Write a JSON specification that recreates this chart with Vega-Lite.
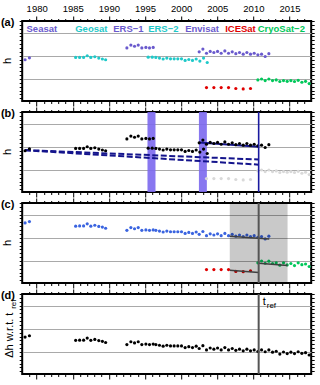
{
"$schema": "https://vega.github.io/schema/vega-lite/v6.json",
"padding": {"left": -0.8, "top": 2, "right": 2, "bottom": 2},
"background": "white",
"spacing": 11,
"bounds": "flush",
"config": {
  "view": {"stroke": "black", "strokeWidth": 2},
  "font": "Liberation Sans",
  "axis": {"domain": false, "labels": false, "grid": false, "tickColor": "black", "tickWidth": 1, "minExtent": 0, "titleFontWeight": "normal", "titleColor": "black", "titleFontSize": 10, "titleFont": "Liberation Sans"}
},
"datasets": {
  "missions": [
    {"mission":"Seasat","year":1978.4,"h":0.83},{"mission":"Seasat","year":1979.0,"h":0.91},
    {"mission":"Geosat","year":1985.4,"h":0.93},{"mission":"Geosat","year":1985.95,"h":0.93},{"mission":"Geosat","year":1986.5,"h":0.93},{"mission":"Geosat","year":1987.0,"h":1.0},{"mission":"Geosat","year":1987.5,"h":0.93},{"mission":"Geosat","year":1988.05,"h":0.96},{"mission":"Geosat","year":1988.6,"h":0.90},{"mission":"Geosat","year":1989.1,"h":0.86},{"mission":"Geosat","year":1989.55,"h":0.83},
    {"mission":"ERS-1","year":1992.49,"h":1.34},{"mission":"ERS-1","year":1993.04,"h":1.46},{"mission":"ERS-1","year":1993.55,"h":1.41},{"mission":"ERS-1","year":1994.06,"h":1.46},{"mission":"ERS-1","year":1994.56,"h":1.34},{"mission":"ERS-1","year":1995.12,"h":1.36},{"mission":"ERS-1","year":1995.62,"h":1.34},{"mission":"ERS-1","year":1996.13,"h":1.36},
    {"mission":"ERS-2","year":1995.44,"h":0.94},{"mission":"ERS-2","year":1995.99,"h":0.94},{"mission":"ERS-2","year":1996.5,"h":0.93},{"mission":"ERS-2","year":1997.0,"h":0.90},{"mission":"ERS-2","year":1997.51,"h":0.86},{"mission":"ERS-2","year":1998.02,"h":0.90},{"mission":"ERS-2","year":1998.53,"h":0.87},{"mission":"ERS-2","year":1999.03,"h":0.87},{"mission":"ERS-2","year":1999.54,"h":0.87},{"mission":"ERS-2","year":2000.05,"h":0.87},{"mission":"ERS-2","year":2000.55,"h":0.80},{"mission":"ERS-2","year":2001.06,"h":0.84},{"mission":"ERS-2","year":2001.57,"h":0.80},{"mission":"ERS-2","year":2002.08,"h":0.86},{"mission":"ERS-2","year":2002.59,"h":0.77},{"mission":"ERS-2","year":2003.1,"h":0.90},{"mission":"ERS-2","year":2003.61,"h":0.71},
    {"mission":"Envisat","year":2002.5,"h":1.17},{"mission":"Envisat","year":2003.01,"h":1.29},{"mission":"Envisat","year":2003.51,"h":1.11},{"mission":"Envisat","year":2004.02,"h":1.19},{"mission":"Envisat","year":2004.53,"h":1.14},{"mission":"Envisat","year":2005.04,"h":1.19},{"mission":"Envisat","year":2005.54,"h":1.11},{"mission":"Envisat","year":2006.05,"h":1.21},{"mission":"Envisat","year":2006.56,"h":1.11},{"mission":"Envisat","year":2007.07,"h":1.17},{"mission":"Envisat","year":2007.57,"h":1.09},{"mission":"Envisat","year":2008.08,"h":1.14},{"mission":"Envisat","year":2008.59,"h":1.07},{"mission":"Envisat","year":2009.1,"h":1.14},{"mission":"Envisat","year":2009.6,"h":1.07},{"mission":"Envisat","year":2010.11,"h":1.11},{"mission":"Envisat","year":2010.62,"h":1.04},{"mission":"Envisat","year":2011.13,"h":1.07},{"mission":"Envisat","year":2011.63,"h":0.97},{"mission":"Envisat","year":2012.14,"h":1.09},
    {"mission":"ICESat","year":2003.51,"h":-0.37},{"mission":"ICESat","year":2004.53,"h":-0.37},{"mission":"ICESat","year":2005.54,"h":-0.37},{"mission":"ICESat","year":2006.56,"h":-0.37},{"mission":"ICESat","year":2007.57,"h":-0.41},{"mission":"ICESat","year":2008.59,"h":-0.43},{"mission":"ICESat","year":2009.6,"h":-0.41},
    {"mission":"CryoSat-2","year":2010.62,"h":-0.04},{"mission":"CryoSat-2","year":2011.13,"h":0.0},{"mission":"CryoSat-2","year":2011.63,"h":-0.07},{"mission":"CryoSat-2","year":2012.14,"h":0.0},{"mission":"CryoSat-2","year":2012.65,"h":-0.07},{"mission":"CryoSat-2","year":2013.16,"h":-0.04},{"mission":"CryoSat-2","year":2013.66,"h":-0.11},{"mission":"CryoSat-2","year":2014.17,"h":-0.07},{"mission":"CryoSat-2","year":2014.68,"h":-0.10},{"mission":"CryoSat-2","year":2015.19,"h":-0.07},{"mission":"CryoSat-2","year":2015.69,"h":-0.11},{"mission":"CryoSat-2","year":2016.2,"h":-0.06},{"mission":"CryoSat-2","year":2016.71,"h":-0.14},{"mission":"CryoSat-2","year":2017.22,"h":-0.10},{"mission":"CryoSat-2","year":2017.72,"h":-0.20}
  ],
  "calibrated": [
    {"sensor":"radar","year":1978.4,"h":1.64},{"sensor":"radar","year":1979.0,"h":1.70},
    {"sensor":"radar","year":1985.4,"h":1.50},{"sensor":"radar","year":1985.95,"h":1.51},{"sensor":"radar","year":1986.5,"h":1.51},{"sensor":"radar","year":1987.0,"h":1.60},{"sensor":"radar","year":1987.5,"h":1.50},{"sensor":"radar","year":1988.05,"h":1.54},{"sensor":"radar","year":1988.6,"h":1.49},{"sensor":"radar","year":1989.1,"h":1.46},{"sensor":"radar","year":1989.55,"h":1.41},
    {"sensor":"radar","year":1992.49,"h":1.32},{"sensor":"radar","year":1993.04,"h":1.44},{"sensor":"radar","year":1993.55,"h":1.39},{"sensor":"radar","year":1994.06,"h":1.44},{"sensor":"radar","year":1994.56,"h":1.32},{"sensor":"radar","year":1995.12,"h":1.34},{"sensor":"radar","year":1995.62,"h":1.32},{"sensor":"radar","year":1996.13,"h":1.34},
    {"sensor":"radar","year":1996.5,"h":1.32},{"sensor":"radar","year":1997.0,"h":1.29},{"sensor":"radar","year":1997.51,"h":1.25},{"sensor":"radar","year":1998.02,"h":1.29},{"sensor":"radar","year":1998.53,"h":1.26},{"sensor":"radar","year":1999.03,"h":1.26},{"sensor":"radar","year":1999.54,"h":1.26},{"sensor":"radar","year":2000.05,"h":1.26},{"sensor":"radar","year":2000.55,"h":1.19},{"sensor":"radar","year":2001.06,"h":1.23},{"sensor":"radar","year":2001.57,"h":1.19},{"sensor":"radar","year":2002.08,"h":1.25},
    {"sensor":"radar","year":2002.5,"h":1.15},{"sensor":"radar","year":2003.01,"h":1.27},{"sensor":"radar","year":2003.51,"h":1.09},{"sensor":"radar","year":2004.02,"h":1.17},{"sensor":"radar","year":2004.53,"h":1.12},{"sensor":"radar","year":2005.04,"h":1.17},{"sensor":"radar","year":2005.54,"h":1.09},{"sensor":"radar","year":2006.05,"h":1.19},{"sensor":"radar","year":2006.56,"h":1.09},{"sensor":"radar","year":2007.07,"h":1.15},{"sensor":"radar","year":2007.57,"h":1.07},{"sensor":"radar","year":2008.08,"h":1.12},{"sensor":"radar","year":2008.59,"h":1.05},{"sensor":"radar","year":2009.1,"h":1.12},{"sensor":"radar","year":2009.6,"h":1.05},{"sensor":"radar","year":2010.11,"h":1.09},{"sensor":"radar","year":2010.62,"h":1.02},{"sensor":"radar","year":2011.13,"h":1.05},{"sensor":"radar","year":2011.63,"h":0.95},{"sensor":"radar","year":2012.14,"h":1.07},
    {"sensor":"ICESat","year":2003.51,"h":-0.37},{"sensor":"ICESat","year":2004.53,"h":-0.37},{"sensor":"ICESat","year":2005.54,"h":-0.37},{"sensor":"ICESat","year":2006.56,"h":-0.37},{"sensor":"ICESat","year":2007.57,"h":-0.45},{"sensor":"ICESat","year":2008.59,"h":-0.46},{"sensor":"ICESat","year":2009.6,"h":-0.42},
    {"sensor":"CryoSat-2","year":2010.62,"h":-0.08},{"sensor":"CryoSat-2","year":2011.13,"h":0.0},{"sensor":"CryoSat-2","year":2011.63,"h":-0.10},{"sensor":"CryoSat-2","year":2012.14,"h":-0.01},{"sensor":"CryoSat-2","year":2012.65,"h":-0.11},{"sensor":"CryoSat-2","year":2013.16,"h":-0.08},{"sensor":"CryoSat-2","year":2013.66,"h":-0.18},{"sensor":"CryoSat-2","year":2014.17,"h":-0.08},{"sensor":"CryoSat-2","year":2014.68,"h":-0.17},{"sensor":"CryoSat-2","year":2015.19,"h":-0.11},{"sensor":"CryoSat-2","year":2015.69,"h":-0.20},{"sensor":"CryoSat-2","year":2016.2,"h":-0.08},{"sensor":"CryoSat-2","year":2016.71,"h":-0.16},{"sensor":"CryoSat-2","year":2017.22,"h":-0.13},{"sensor":"CryoSat-2","year":2017.72,"h":-0.24}
  ],
  "merged": [
    {"year":1978.4,"dh":0.64},{"year":1979.0,"dh":0.70},
    {"year":1985.4,"dh":0.50},{"year":1985.95,"dh":0.51},{"year":1986.5,"dh":0.51},{"year":1987.0,"dh":0.60},{"year":1987.5,"dh":0.50},{"year":1988.05,"dh":0.54},{"year":1988.6,"dh":0.49},{"year":1989.1,"dh":0.46},{"year":1989.55,"dh":0.41},
    {"year":1992.49,"dh":0.32},{"year":1993.04,"dh":0.44},{"year":1993.55,"dh":0.39},{"year":1994.06,"dh":0.44},{"year":1994.56,"dh":0.32},{"year":1995.12,"dh":0.34},{"year":1995.62,"dh":0.32},{"year":1996.13,"dh":0.34},
    {"year":1996.5,"dh":0.32},{"year":1997.0,"dh":0.29},{"year":1997.51,"dh":0.25},{"year":1998.02,"dh":0.29},{"year":1998.53,"dh":0.26},{"year":1999.03,"dh":0.26},{"year":1999.54,"dh":0.26},{"year":2000.05,"dh":0.26},{"year":2000.55,"dh":0.19},{"year":2001.06,"dh":0.23},{"year":2001.57,"dh":0.19},{"year":2002.08,"dh":0.25},
    {"year":2002.5,"dh":0.15},{"year":2003.01,"dh":0.27},{"year":2003.51,"dh":0.09},{"year":2004.02,"dh":0.17},{"year":2004.53,"dh":0.12},{"year":2005.04,"dh":0.17},{"year":2005.54,"dh":0.09},{"year":2006.05,"dh":0.19},{"year":2006.56,"dh":0.09},{"year":2007.07,"dh":0.15},{"year":2007.57,"dh":0.07},{"year":2008.08,"dh":0.12},{"year":2008.59,"dh":0.05},{"year":2009.1,"dh":0.12},{"year":2009.6,"dh":0.05},{"year":2010.11,"dh":0.09},{"year":2010.62,"dh":0.02},
    {"year":2011.13,"dh":0.09},{"year":2011.63,"dh":0.01},{"year":2012.14,"dh":0.09},{"year":2012.65,"dh":-0.01},{"year":2013.16,"dh":0.03},{"year":2013.66,"dh":-0.09},{"year":2014.17,"dh":0.0},{"year":2014.68,"dh":-0.07},{"year":2015.19,"dh":-0.01},{"year":2015.69,"dh":-0.07},{"year":2016.2,"dh":0.01},{"year":2016.71,"dh":-0.06},{"year":2017.22,"dh":-0.03},{"year":2017.72,"dh":-0.13}
  ],
  "labels": [
    {"mission":"Seasat","label":"Seasat","x":1978.6},
    {"mission":"Geosat","label":"Geosat","x":1985.34},
    {"mission":"ERS-1","label":"ERS−1","x":1990.6},
    {"mission":"ERS-2","label":"ERS−2","x":1995.44},
    {"mission":"Envisat","label":"Envisat","x":2000.56},
    {"mission":"ICESat","label":"ICESat","x":2006.1},
    {"mission":"CryoSat-2","label":"CryoSat−2","x":2010.6}
  ],
  "bands": [{"start":1995.34,"end":1996.45},{"start":2002.46,"end":2003.56}],
  "tref": [{"t":2010.73}],
  "window": [{"start":2006.73,"end":2014.73}],
  "dashed": [{"line":"A","year":1978.37,"h":0.86},{"line":"A","year":2010.73,"h":0.45},{"line":"B","year":1978.37,"h":0.85},{"line":"B","year":2010.73,"h":0.23}],
  "fit_b": [{"year":2002.5,"h":1.19},{"year":2010.73,"h":1.0}],
  "fits_c": [{"fit":"Envisat","year":2006.73,"h":1.07},{"fit":"Envisat","year":2012.2,"h":0.95},{"fit":"ICESat","year":2006.73,"h":-0.40},{"fit":"ICESat","year":2010.73,"h":-0.50},{"fit":"CryoSat-2","year":2010.73,"h":-0.10},{"fit":"CryoSat-2","year":2014.73,"h":-0.20}],
  "panels": [{"panel":"a","label":"(a)","ytitle":"h"},{"panel":"b","label":"(b)","ytitle":"h"},{"panel":"c","label":"(c)","ytitle":"h"},{"panel":"d","label":"(d)","ytitle":"Δh w.r.t. t"}]
},
"vconcat": [
 {
  "width": 289, "height": 80,
  "resolve": {"axis": {"x": "independent", "y": "independent"}},
  "layer": [
   {"data": {"name": "missions"},
    "transform": [{"filter": "datum.mission !== 'ICESat' && datum.mission !== 'CryoSat-2'"}],
    "mark": {"type": "circle", "size": 10, "opacity": 1},
    "encoding": {
      "x": {"field": "year", "type": "quantitative", "scale": {"domain": [1978, 2018], "nice": false, "zero": false},
            "axis": {"orient": "bottom", "values": [1979,1980,1981,1982,1983,1984,1985,1986,1987,1988,1989,1990,1991,1992,1993,1994,1995,1996,1997,1998,1999,2000,2001,2002,2003,2004,2005,2006,2007,2008,2009,2010,2011,2012,2013,2014,2015,2016,2017], "labels": false, "title": null, "tickSize": {"condition": {"test": "datum.value % 5 === 0", "value": 5}, "value": 2.5}}},
      "y": {"field": "h", "type": "quantitative", "scale": {"domain": [-0.95, 2.5], "nice": false, "zero": false},
            "axis": {"orient": "left", "values": [-0.8333,-0.6667,-0.5,-0.3333,-0.1667,0,0.1667,0.3333,0.5,0.6667,0.8333,1,1.1667,1.3333,1.5,1.6667,1.8333,2,2.1667,2.3333,2.5], "labels": false, "tickSize": 3, "grid": true, "gridColor": "#a9a9a9", "gridWidth": 1.2, "gridOpacity": {"condition": {"test": "abs(datum.value - round(datum.value)) < 0.01", "value": 1}, "value": 0}, "title": null}},
      "color": {"field": "mission", "type": "nominal", "legend": null, "scale": {"domain": ["Seasat","Geosat","ERS-1","ERS-2","Envisat","ICESat","CryoSat-2","radar"], "range": ["#6a5acd","#1fc9c9","#6a5acd","#1fc9c9","#6a5acd","#e00000","#00c85a","#3a64e0"]}}
    }},
   {"data": {"name": "missions"},
    "transform": [{"filter": "datum.mission === 'ICESat' || datum.mission === 'CryoSat-2'"}],
    "mark": {"type": "circle", "size": 10, "opacity": 1},
    "encoding": {
      "x": {"field": "year", "type": "quantitative", "scale": {"domain": [1978, 2018], "nice": false, "zero": false},
            "axis": {"orient": "top", "values": [1979,1980,1981,1982,1983,1984,1985,1986,1987,1988,1989,1990,1991,1992,1993,1994,1995,1996,1997,1998,1999,2000,2001,2002,2003,2004,2005,2006,2007,2008,2009,2010,2011,2012,2013,2014,2015,2016,2017], "labels": true, "labelExpr": "datum.value % 5 === 0 ? '' + datum.value : ''", "labelFontSize": 9.5, "labelColor": "black", "labelPadding": 3, "labelFlush": false, "labelOverlap": false, "title": null, "tickSize": {"condition": {"test": "datum.value % 5 === 0", "value": 5}, "value": 2.5}}},
      "y": {"field": "h", "type": "quantitative", "scale": {"domain": [-0.95, 2.5], "nice": false, "zero": false},
            "axis": {"orient": "right", "values": [-0.8333,-0.6667,-0.5,-0.3333,-0.1667,0,0.1667,0.3333,0.5,0.6667,0.8333,1,1.1667,1.3333,1.5,1.6667,1.8333,2,2.1667,2.3333,2.5], "labels": false, "tickSize": 3, "grid": false, "title": null}},
      "color": {"field": "mission", "type": "nominal", "legend": null}
    }},
   {"data": {"name": "labels"},
    "mark": {"type": "text", "align": "left", "baseline": "middle", "fontSize": 9.5, "fontWeight": "bold"},
    "encoding": {
      "x": {"field": "x", "type": "quantitative", "axis": null},
      "y": {"datum": 2.16, "axis": null},
      "text": {"field": "label"},
      "color": {"field": "mission", "type": "nominal", "legend": null}
    }},
   {"data": {"name": "panels"},
    "transform": [{"filter": "datum.panel === 'a'"}],
    "mark": {"type": "text", "fontWeight": "bold", "fontSize": 11, "align": "left", "baseline": "middle", "color": "black"},
    "encoding": {"x": {"datum": 1975.05, "axis": null}, "y": {"datum": 2.42, "axis": null}, "text": {"field": "label"}}},
   {"data": {"name": "panels"},
    "transform": [{"filter": "datum.panel === 'a'"}],
    "mark": {"type": "text", "fontSize": 11, "align": "center", "baseline": "alphabetic", "angle": 270, "color": "black"},
    "encoding": {"x": {"datum": 1976.48, "axis": null}, "y": {"datum": 0.775, "axis": null}, "text": {"field": "ytitle"}}}
  ]
 },
 {
  "width": 289, "height": 80,
  "resolve": {"axis": {"x": "independent", "y": "independent"}},
  "layer": [
   {"data": {"name": "bands"},
    "mark": {"type": "rect", "color": "#7b68ee", "opacity": 0.9},
    "encoding": {"x": {"field": "start", "type": "quantitative", "scale": {"domain": [1978, 2018], "nice": false, "zero": false}, "axis": null}, "x2": {"field": "end"}}},
   {"data": {"name": "dashed"},
    "mark": {"type": "line", "color": "#14148c", "strokeWidth": 2, "strokeDash": [6, 2.5]},
    "encoding": {"x": {"field": "year", "type": "quantitative", "axis": null}, "y": {"field": "h", "type": "quantitative", "scale": {"domain": [-0.95, 2.5], "nice": false, "zero": false}, "axis": null}, "detail": {"field": "line"}}},
   {"data": {"name": "fit_b"},
    "mark": {"type": "line", "color": "#14148c", "strokeWidth": 2},
    "encoding": {"x": {"field": "year", "type": "quantitative", "axis": null}, "y": {"field": "h", "type": "quantitative", "axis": null}}},
   {"data": {"name": "missions"},
    "transform": [{"filter": "datum.mission !== 'ICESat' && datum.mission !== 'CryoSat-2'"}],
    "mark": {"type": "circle", "size": 10, "opacity": 1, "color": "black"},
    "encoding": {
      "x": {"field": "year", "type": "quantitative",
            "axis": {"orient": "bottom", "values": [1979,1980,1981,1982,1983,1984,1985,1986,1987,1988,1989,1990,1991,1992,1993,1994,1995,1996,1997,1998,1999,2000,2001,2002,2003,2004,2005,2006,2007,2008,2009,2010,2011,2012,2013,2014,2015,2016,2017], "labels": false, "title": null, "tickSize": {"condition": {"test": "datum.value % 5 === 0", "value": 5}, "value": 2.5}}},
      "y": {"field": "h", "type": "quantitative",
            "axis": {"orient": "left", "values": [-0.8333,-0.6667,-0.5,-0.3333,-0.1667,0,0.1667,0.3333,0.5,0.6667,0.8333,1,1.1667,1.3333,1.5,1.6667,1.8333,2,2.1667,2.3333,2.5], "labels": false, "tickSize": 3, "grid": true, "gridColor": "#a9a9a9", "gridWidth": 1.2, "gridOpacity": {"condition": {"test": "abs(datum.value - round(datum.value)) < 0.01", "value": 1}, "value": 0}, "title": null}}
    }},
   {"data": {"name": "missions"},
    "transform": [{"filter": "datum.mission === 'ICESat' || datum.mission === 'CryoSat-2'"}],
    "mark": {"type": "circle", "size": 10, "opacity": 1, "color": "#d9d9d9"},
    "encoding": {
      "x": {"field": "year", "type": "quantitative",
            "axis": {"orient": "top", "values": [1979,1980,1981,1982,1983,1984,1985,1986,1987,1988,1989,1990,1991,1992,1993,1994,1995,1996,1997,1998,1999,2000,2001,2002,2003,2004,2005,2006,2007,2008,2009,2010,2011,2012,2013,2014,2015,2016,2017], "labels": false, "title": null, "tickSize": {"condition": {"test": "datum.value % 5 === 0", "value": 5}, "value": 2.5}}},
      "y": {"field": "h", "type": "quantitative",
            "axis": {"orient": "right", "values": [-0.8333,-0.6667,-0.5,-0.3333,-0.1667,0,0.1667,0.3333,0.5,0.6667,0.8333,1,1.1667,1.3333,1.5,1.6667,1.8333,2,2.1667,2.3333,2.5], "labels": false, "tickSize": 3, "grid": false, "title": null}}
    }},
   {"data": {"name": "tref"},
    "mark": {"type": "rule", "color": "#1a1aa0", "strokeWidth": 1.6},
    "encoding": {"x": {"field": "t", "type": "quantitative", "axis": null}}},
   {"data": {"name": "panels"},
    "transform": [{"filter": "datum.panel === 'b'"}],
    "mark": {"type": "text", "fontWeight": "bold", "fontSize": 11, "align": "left", "baseline": "middle", "color": "black"},
    "encoding": {"x": {"datum": 1975.05, "axis": null}, "y": {"datum": 2.42, "axis": null}, "text": {"field": "label"}}},
   {"data": {"name": "panels"},
    "transform": [{"filter": "datum.panel === 'b'"}],
    "mark": {"type": "text", "fontSize": 11, "align": "center", "baseline": "alphabetic", "angle": 270, "color": "black"},
    "encoding": {"x": {"datum": 1976.48, "axis": null}, "y": {"datum": 0.775, "axis": null}, "text": {"field": "ytitle"}}}
  ]
 },
 {
  "width": 289, "height": 80,
  "resolve": {"axis": {"x": "independent", "y": "independent"}},
  "layer": [
   {"data": {"name": "calibrated"},
    "transform": [{"filter": "datum.sensor === 'radar'"}],
    "mark": {"type": "circle", "size": 10, "opacity": 1},
    "encoding": {
      "x": {"field": "year", "type": "quantitative", "scale": {"domain": [1978, 2018], "nice": false, "zero": false},
            "axis": {"orient": "bottom", "values": [1979,1980,1981,1982,1983,1984,1985,1986,1987,1988,1989,1990,1991,1992,1993,1994,1995,1996,1997,1998,1999,2000,2001,2002,2003,2004,2005,2006,2007,2008,2009,2010,2011,2012,2013,2014,2015,2016,2017], "labels": false, "title": null, "tickSize": {"condition": {"test": "datum.value % 5 === 0", "value": 5}, "value": 2.5}}},
      "y": {"field": "h", "type": "quantitative", "scale": {"domain": [-0.95, 2.5], "nice": false, "zero": false},
            "axis": {"orient": "left", "values": [-0.8333,-0.6667,-0.5,-0.3333,-0.1667,0,0.1667,0.3333,0.5,0.6667,0.8333,1,1.1667,1.3333,1.5,1.6667,1.8333,2,2.1667,2.3333,2.5], "labels": false, "tickSize": 3, "grid": true, "gridColor": "#a9a9a9", "gridWidth": 1.2, "gridOpacity": {"condition": {"test": "abs(datum.value - round(datum.value)) < 0.01", "value": 1}, "value": 0}, "title": null}},
      "color": {"field": "sensor", "type": "nominal", "legend": null}
    }},
   {"data": {"name": "calibrated"},
    "transform": [{"filter": "datum.sensor !== 'radar'"}],
    "mark": {"type": "circle", "size": 10, "opacity": 1},
    "encoding": {
      "x": {"field": "year", "type": "quantitative",
            "axis": {"orient": "top", "values": [1979,1980,1981,1982,1983,1984,1985,1986,1987,1988,1989,1990,1991,1992,1993,1994,1995,1996,1997,1998,1999,2000,2001,2002,2003,2004,2005,2006,2007,2008,2009,2010,2011,2012,2013,2014,2015,2016,2017], "labels": false, "title": null, "tickSize": {"condition": {"test": "datum.value % 5 === 0", "value": 5}, "value": 2.5}}},
      "y": {"field": "h", "type": "quantitative",
            "axis": {"orient": "right", "values": [-0.8333,-0.6667,-0.5,-0.3333,-0.1667,0,0.1667,0.3333,0.5,0.6667,0.8333,1,1.1667,1.3333,1.5,1.6667,1.8333,2,2.1667,2.3333,2.5], "labels": false, "tickSize": 3, "grid": false, "title": null}},
      "color": {"field": "sensor", "type": "nominal", "legend": null}
    }},
   {"data": {"name": "fits_c"},
    "mark": {"type": "line", "color": "#505050", "strokeWidth": 1.5},
    "encoding": {"x": {"field": "year", "type": "quantitative", "axis": null}, "y": {"field": "h", "type": "quantitative", "axis": null}, "detail": {"field": "fit"}}},
   {"data": {"name": "window"},
    "mark": {"type": "rect", "color": "black", "opacity": 0.21},
    "encoding": {"x": {"field": "start", "type": "quantitative", "axis": null}, "x2": {"field": "end"}}},
   {"data": {"name": "tref"},
    "mark": {"type": "rule", "color": "#555555", "strokeWidth": 2},
    "encoding": {"x": {"field": "t", "type": "quantitative", "axis": null}}},
   {"data": {"name": "panels"},
    "transform": [{"filter": "datum.panel === 'c'"}],
    "mark": {"type": "text", "fontWeight": "bold", "fontSize": 11, "align": "left", "baseline": "middle", "color": "black"},
    "encoding": {"x": {"datum": 1975.05, "axis": null}, "y": {"datum": 2.42, "axis": null}, "text": {"field": "label"}}},
   {"data": {"name": "panels"},
    "transform": [{"filter": "datum.panel === 'c'"}],
    "mark": {"type": "text", "fontSize": 11, "align": "center", "baseline": "alphabetic", "angle": 270, "color": "black"},
    "encoding": {"x": {"datum": 1976.48, "axis": null}, "y": {"datum": 0.775, "axis": null}, "text": {"field": "ytitle"}}}
  ]
 },
 {
  "width": 289, "height": 80,
  "resolve": {"axis": {"x": "independent", "y": "independent"}},
  "layer": [
   {"data": {"name": "merged"},
    "transform": [{"filter": "datum.year < 2010.7"}],
    "mark": {"type": "circle", "size": 10, "opacity": 1, "color": "black"},
    "encoding": {
      "x": {"field": "year", "type": "quantitative", "scale": {"domain": [1978, 2018], "nice": false, "zero": false},
            "axis": {"orient": "bottom", "values": [1979,1980,1981,1982,1983,1984,1985,1986,1987,1988,1989,1990,1991,1992,1993,1994,1995,1996,1997,1998,1999,2000,2001,2002,2003,2004,2005,2006,2007,2008,2009,2010,2011,2012,2013,2014,2015,2016,2017], "labels": false, "title": null, "tickSize": {"condition": {"test": "datum.value % 5 === 0", "value": 5}, "value": 2.5}}},
      "y": {"field": "dh", "type": "quantitative", "scale": {"domain": [-0.95, 2.5], "nice": false, "zero": false},
            "axis": {"orient": "left", "values": [-0.8333,-0.6667,-0.5,-0.3333,-0.1667,0,0.1667,0.3333,0.5,0.6667,0.8333,1,1.1667,1.3333,1.5,1.6667,1.8333,2,2.1667,2.3333,2.5], "labels": false, "tickSize": 3, "grid": true, "gridColor": "#a9a9a9", "gridWidth": 1.2, "gridOpacity": {"condition": {"test": "abs(datum.value - round(datum.value)) < 0.01", "value": 1}, "value": 0}, "title": null}}
    }},
   {"data": {"name": "merged"},
    "transform": [{"filter": "datum.year >= 2010.7"}],
    "mark": {"type": "circle", "size": 10, "opacity": 1, "color": "black"},
    "encoding": {
      "x": {"field": "year", "type": "quantitative",
            "axis": {"orient": "top", "values": [1979,1980,1981,1982,1983,1984,1985,1986,1987,1988,1989,1990,1991,1992,1993,1994,1995,1996,1997,1998,1999,2000,2001,2002,2003,2004,2005,2006,2007,2008,2009,2010,2011,2012,2013,2014,2015,2016,2017], "labels": false, "title": null, "tickSize": {"condition": {"test": "datum.value % 5 === 0", "value": 5}, "value": 2.5}}},
      "y": {"field": "dh", "type": "quantitative",
            "axis": {"orient": "right", "values": [-0.8333,-0.6667,-0.5,-0.3333,-0.1667,0,0.1667,0.3333,0.5,0.6667,0.8333,1,1.1667,1.3333,1.5,1.6667,1.8333,2,2.1667,2.3333,2.5], "labels": false, "tickSize": 3, "grid": false, "title": null}}
    }},
   {"data": {"name": "tref"},
    "mark": {"type": "rule", "color": "#555555", "strokeWidth": 2},
    "encoding": {"x": {"field": "t", "type": "quantitative", "axis": null}}},
   {"data": {"name": "panels"},
    "transform": [{"filter": "datum.panel === 'd'"}],
    "mark": {"type": "text", "fontSize": 11, "align": "left", "baseline": "alphabetic", "color": "black"},
    "encoding": {"x": {"datum": 2011.3, "axis": null}, "y": {"datum": 2.03, "axis": null}, "text": {"value": "t"}}},
   {"data": {"name": "panels"},
    "transform": [{"filter": "datum.panel === 'd'"}],
    "mark": {"type": "text", "fontSize": 8, "align": "left", "baseline": "alphabetic", "color": "black"},
    "encoding": {"x": {"datum": 2011.85, "axis": null}, "y": {"datum": 1.88, "axis": null}, "text": {"value": "ref"}}},
   {"data": {"name": "panels"},
    "transform": [{"filter": "datum.panel === 'd'"}],
    "mark": {"type": "text", "fontSize": 11, "align": "left", "baseline": "alphabetic", "angle": 270, "color": "black"},
    "encoding": {"x": {"datum": 1976.75, "axis": null}, "y": {"datum": -0.25, "axis": null}, "text": {"field": "ytitle"}}},
   {"data": {"name": "panels"},
    "transform": [{"filter": "datum.panel === 'd'"}],
    "mark": {"type": "text", "fontSize": 8, "align": "left", "baseline": "alphabetic", "angle": 270, "color": "black"},
    "encoding": {"x": {"datum": 1977.1, "axis": null}, "y": {"datum": 1.86, "axis": null}, "text": {"value": "ref"}}},
   {"data": {"name": "panels"},
    "transform": [{"filter": "datum.panel === 'd'"}],
    "mark": {"type": "text", "fontWeight": "bold", "fontSize": 11, "align": "left", "baseline": "middle", "color": "black"},
    "encoding": {"x": {"datum": 1975.05, "axis": null}, "y": {"datum": 2.42, "axis": null}, "text": {"field": "label"}}}
  ]
 }
]
}
